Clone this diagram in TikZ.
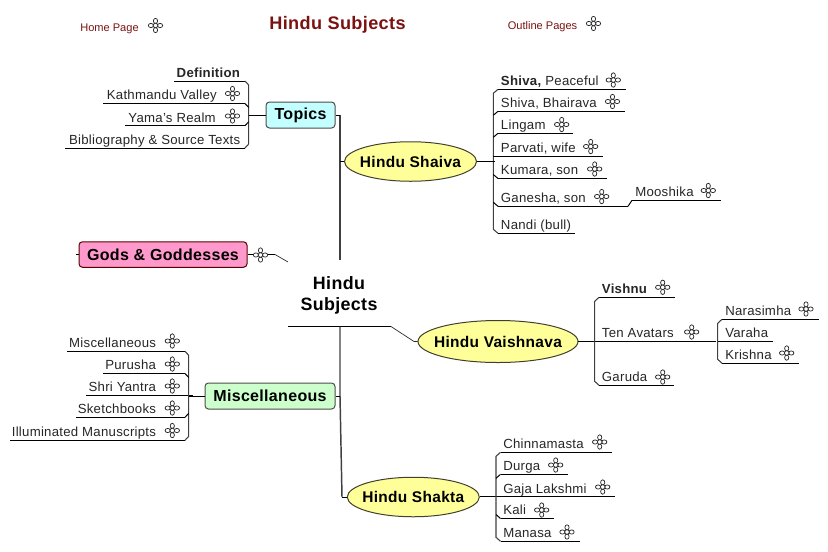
\documentclass[tikz,border=0pt]{standalone}
\usepackage{fontspec}
\setmainfont[LetterSpace=2]{Liberation Sans}
\newfontfamily\plainfont{Liberation Sans}
\usetikzlibrary{shapes.geometric}
\def\px{0.75pt}
\definecolor{titlered}{HTML}{7B1212}
\definecolor{topiccyan}{HTML}{C4FFFF}
\definecolor{godspink}{HTML}{FF99CC}
\definecolor{miscgreen}{HTML}{CCFFCC}
\definecolor{ovalyellow}{HTML}{FFFF99}
\tikzset{
  rulepen/.style={draw=black,line width=0.75pt},
  thinpen/.style={draw=black!85,line width=0.5pt},
  trunkpen/.style={draw=black!75,line width=1.1pt},
  leaftext/.style={inner sep=0pt,font=\fontsize{9.9pt}{12pt}\selectfont,text=black!85},
  leafL/.style={leaftext,anchor=base west},
  leafR/.style={leaftext,anchor=base east},
  headtext/.style={inner sep=0pt,anchor=base west,font=\plainfont\fontsize{8.3pt}{10pt}\selectfont,text=titlered},
  tbox/.style={rounded corners=2.6pt,line width=0.75pt,inner sep=0pt,font=\bfseries\fontsize{12pt}{14pt}\selectfont},
  oval/.style={ellipse,draw=black!70!olive,line width=0.75pt,fill=ovalyellow,inner sep=0pt},
  ovaltext/.style={inner sep=0pt,font=\bfseries\fontsize{11.6pt}{14pt}\selectfont},
  flower/.pic={
    \begin{scope}[draw=black!85,line width=0.55pt,fill=white]
      \filldraw (0,-4.6) ellipse (2.1 and 2.6);
      \filldraw (0,4.6) ellipse (2.1 and 2.6);
      \filldraw (-4.6,0) ellipse (2.6 and 2.1);
      \filldraw (4.6,0) ellipse (2.6 and 2.1);
      \filldraw (0,0) circle (2.3);
    \end{scope}
  }
}
% leaf: name, inner x of rule, outer x of rule, rule y, text side style, text x, text
\newcommand{\leafitem}[7]{%
  \coordinate (#1-a) at (#2,#4);
  \coordinate (#1-b) at (#3,#4);
  \path[rulepen] (#1-a) -- (#1-b);
  \node[#5] (#1) at (#6,#4-3.6) {#7};
}
\newcommand{\flowerat}[2]{\pic at (#1,#2) {flower};}
\begin{document}
\begin{tikzpicture}[x=0.75pt,y=-0.75pt]
\useasboundingbox (0,0) rectangle (828,551);

% header
\node[headtext] (home) at (80,31) {Home Page};
\flowerat{155.5}{25.5}
\node[inner sep=0pt,font=\bfseries\fontsize{13.6pt}{16pt}\selectfont,text=titlered] (title) at (337.5,25) {Hindu Subjects};
\node[headtext] (outline) at (507.5,29) {Outline Pages};
\flowerat{593.5}{23.5}

% central topic
\node[inner sep=0pt,align=center,font=\bfseries\fontsize{13.4pt}{15.8pt}\selectfont] (root) at (339,295.5) {Hindu\\Subjects};
\coordinate (rootL) at (288,326.5);
\coordinate (rootR) at (391,326.5);
\coordinate (trunkTop) at (340,115);
\coordinate (trunkGap) at (340,260);
\coordinate (trunkMid) at (340,326.5);
\coordinate (trunkBot) at (342,497);
\path[rulepen] (rootL) -- (rootR);

% main topics
\node[tbox,draw=black!70,fill=topiccyan,minimum width=69*\px,minimum height=26*\px] (topics) at (300.5,115) {\raisebox{-0.75pt}{Topics}};
\node[tbox,draw=black!65!red,fill=godspink,minimum width=168*\px,minimum height=25.5*\px] (gods) at (163,254.5) {Gods \& Goddesses};
\node[tbox,draw=black!70,fill=miscgreen,minimum width=130*\px,minimum height=26*\px] (misc) at (270,396) {Miscellaneous};
\node[oval,minimum width=132*\px,minimum height=39.5*\px] (shaiva) at (410.5,161.5) {};
\node[ovaltext] (shaivaT) at (shaiva) {Hindu Shaiva};
\node[oval,minimum width=160*\px,minimum height=42*\px] (vaish) at (498,341.5) {};
\node[ovaltext] (vaishT) at (vaish) {Hindu Vaishnava};
\node[oval,minimum width=132*\px,minimum height=39.5*\px] (shakta) at (413.3,497) {};
\node[ovaltext] (shaktaT) at (shakta) {Hindu Shakta};

% trunk
\path[trunkpen] (trunkTop) -- (trunkGap);
\path[trunkpen] (trunkMid) -- (340,396) -- (trunkBot);
\path[rulepen] (topics.east) -- (trunkTop);
\path[rulepen] (misc.east) -- (340,396);
\path[rulepen] (trunkGap |- shaiva) -- (shaiva.west);
\path[rulepen] (trunkBot) -- (shakta.west);
\path[thinpen] (rootR) -- (414,341.5) -- (vaish.west);
\coordinate (godsEnd) at (288,262);
\coordinate (godsKnee) at (275,254.5);
\coordinate (godsStubL) at (76,254.5);
\path[rulepen] (gods.east) -- (254,254.5);
\path[rulepen] (267,254.5) -- (godsKnee);
\path[thinpen] (godsKnee) -- (godsEnd);
\path[rulepen] (godsStubL) -- (gods.west);
\flowerat{260.5}{255}

% Topics branch
\leafitem{t1}{245}{174}{81}{leafR}{240.5}{\textbf{Definition}}
\leafitem{t2}{245}{103}{103.5}{leafR}{217}{Kathmandu Valley}
\leafitem{t3}{245}{125}{125.7}{leafR}{216}{Yama's Realm}
\leafitem{t4}{245}{65}{148}{leafR}{240.5}{Bibliography \& Source Texts}
\flowerat{232.5}{93.5}
\flowerat{232.5}{116}
\path[trunkpen,line width=0.8pt] (t1-a) -- ++(3.7,4) -- ([shift={(3.7,-4)}]t4-a) -- (t4-a);
\path[rulepen] (t2-a) -- ++(3.7,4);
\path[rulepen] (t3-a) -- ++(3.7,-4);
\path[rulepen] (248.7,115) -- (topics.west);

% Shaiva branch
\leafitem{s1}{498}{626}{89.3}{leafL}{500.7}{\textbf{Shiva,} Peaceful}
\leafitem{s2}{498}{625}{111.3}{leafL}{500.7}{Shiva, Bhairava}
\leafitem{s3}{498}{572.7}{133.3}{leafL}{500.7}{Lingam}
\leafitem{s4}{498}{603}{156}{leafL}{500.7}{Parvati, wife}
\leafitem{s5}{498}{607}{178.5}{leafL}{500.7}{Kumara, son}
\leafitem{s6}{498}{628}{206.3}{leafL}{500.7}{Ganesha, son}
\leafitem{s7}{498}{575}{233.3}{leafL}{500.7}{Nandi (bull)}
\leafitem{s8}{632}{721}{200.3}{leafL}{635}{Mooshika}
\flowerat{613.3}{80}
\flowerat{612.5}{101.5}
\flowerat{561.7}{124.5}
\flowerat{590.7}{146.5}
\flowerat{594.7}{169}
\flowerat{601.7}{196.5}
\flowerat{708.3}{190.5}
\path[trunkpen,line width=0.8pt] (s1-a) -- ++(-4.7,4) -- ([shift={(-4.7,-4)}]s7-a) -- (s7-a);
\path[rulepen] (s2-a) -- ++(-4.7,4);
\path[rulepen] (s3-a) -- ++(-4.7,4);
\path[rulepen] (s4-a) -- ++(-4.7,0);
\path[rulepen] (s5-a) -- ++(-4.7,-4);
\path[rulepen] (s6-a) -- ++(-4.7,-4);
\path[rulepen] (shaiva.east) -- (495,161.5);
\path[rulepen] (s6-b) -- (s8-a);

% Vaishnava branch
\leafitem{v1}{599}{675}{297.3}{leafL}{601.7}{\textbf{Vishnu}}
\leafitem{v2}{578}{716}{341.3}{leafL}{601.7}{Ten Avatars}
\leafitem{v3}{599}{674}{385.3}{leafL}{601.7}{Garuda}
\flowerat{662.7}{287.3}
\flowerat{691.7}{332}
\flowerat{662.7}{377}
\path[trunkpen,line width=0.8pt] (v1-a) -- ++(-4.3,4) -- ([shift={(-4.3,-4)}]v3-a) -- (v3-a);
\leafitem{n1}{722}{819}{319.3}{leafL}{725}{Narasimha}
\leafitem{n2}{717.7}{773}{341.3}{leafL}{725}{Varaha}
\leafitem{n3}{722}{799}{363.3}{leafL}{725}{Krishna}
\flowerat{806}{309}
\flowerat{786.7}{353}
\path[trunkpen,line width=0.8pt] (n1-a) -- ++(-4.3,4) -- ([shift={(-4.3,-4)}]n3-a) -- (n3-a);

% Shakta branch
\leafitem{k1}{500.5}{612}{452.3}{leafL}{503}{Chinnamasta}
\leafitem{k2}{500.5}{568}{474.3}{leafL}{503}{Durga}
\leafitem{k3}{480}{615}{496.6}{leafL}{503}{Gaja Lakshmi}
\leafitem{k4}{500.5}{554}{518.5}{leafL}{503}{Kali}
\leafitem{k5}{500.5}{580}{541.3}{leafL}{503}{Manasa}
\flowerat{599.7}{442}
\flowerat{555.7}{465}
\flowerat{602.7}{487}
\flowerat{541.7}{510}
\flowerat{567}{532}
\path[trunkpen,line width=0.8pt] (k1-a) -- ++(-4.5,4) -- ([shift={(-4.5,-4)}]k5-a) -- (k5-a);
\path[rulepen] (k2-a) -- ++(-4.5,4);
\path[rulepen] (k4-a) -- ++(-4.5,-4);

% Miscellaneous branch
\leafitem{m1}{185}{67}{351.3}{leafR}{156.3}{Miscellaneous}
\leafitem{m2}{185}{103}{373.5}{leafR}{156.3}{Purusha}
\leafitem{m3}{193}{86}{395.5}{leafR}{156.3}{Shri Yantra}
\leafitem{m4}{185}{76}{417.3}{leafR}{156.3}{Sketchbooks}
\leafitem{m5}{185}{10}{440.3}{leafR}{156.3}{Illuminated Manuscripts}
\flowerat{172.3}{341}
\flowerat{172.3}{364}
\flowerat{172.3}{386}
\flowerat{172.3}{408}
\flowerat{172.3}{430.5}
\path[trunkpen,line width=0.8pt] (m1-a) -- ++(3.7,4) -- ([shift={(3.7,-4)}]m5-a) -- (m5-a);
\path[rulepen] (m2-a) -- ++(3.7,4);
\path[rulepen] (m4-a) -- ++(3.7,-4);
\path[rulepen] (188.7,396) -- (misc.west);
\end{tikzpicture}
\end{document}
